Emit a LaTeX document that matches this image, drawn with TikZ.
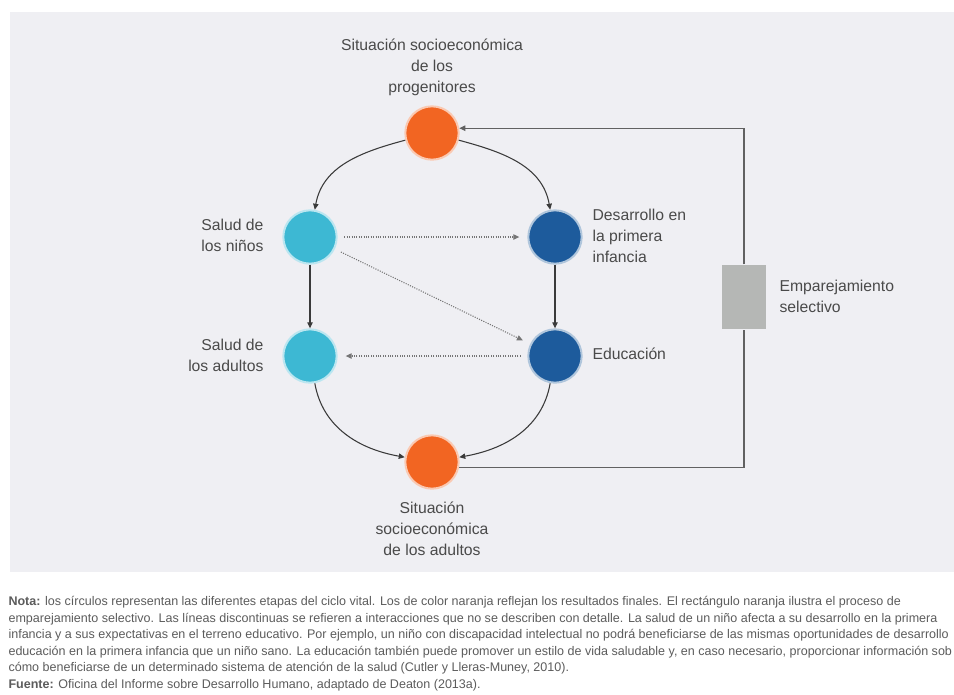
\documentclass[tikz,border=0pt]{standalone}
\usepackage{fontspec}
\setmainfont{Liberation Sans}
\usetikzlibrary{arrows.meta, positioning}
\definecolor{corange}{HTML}{F26522}
\definecolor{clight}{HTML}{3DB8D3}
\definecolor{cdark}{HTML}{1D5B9C}
\definecolor{cbox}{HTML}{B5B7B5}
\definecolor{cpanel}{HTML}{EFEFF3}
\definecolor{ctext}{HTML}{4A4A4A}
\definecolor{cline}{HTML}{3A3A3A}
\tikzset{
  every picture/.style={line width=0.8pt},
  stage/.style={circle, fill=#1, draw=#1!35, line width=1.5pt, minimum size=40pt, inner sep=0pt},
  stage/.default=corange,
  arrow/.style={-{Triangle[length=4.5pt, width=4pt]}, draw=cline},
  label/.style={font=\fontsize{11.8}{15.75}\selectfont, text=ctext, inner sep=0pt},
  note/.style={font=\fontsize{9.4}{12.4}\selectfont, text=ctext!90, align=left, inner sep=0pt},
}

\begin{document}
\begin{tikzpicture}[x=0.75pt, y=0.75pt,
  dots/.style={arrow, densely dotted, draw=cline!70, shorten <=5pt, shorten >=6pt},
  link/.style={draw=cline!80}]
  \fill[white] (0,0) rectangle (954,-694);
  \useasboundingbox (0,0) rectangle (954,-694);
  \fill[cpanel] (10,-12) rectangle (954,-572);
  % stages of the life cycle
  \node[stage=corange] (po) at (432,-133) {};
  \node[stage=clight] (sn) at (310,-237) {};
  \node[stage=cdark] (dp) at (555,-237) {};
  \node[stage=clight] (sa) at (310,-356) {};
  \node[stage=cdark] (ed) at (555,-356) {};
  \node[stage=corange] (pa) at (432,-462) {};
  \node[fill=cbox, minimum width=33pt, minimum height=48pt, inner sep=0pt] (em) at (744,-297) {};
  % labels
  \node[label, align=center] (tpo) at (432,-67) {Situación socioeconómica\\de los\\progenitores};
  \node[label, anchor=east, align=right] (tsn) at (264,-235) {Salud de\\los niños};
  \node[label, anchor=east, align=right] (tsa) at (264,-355) {Salud de\\los adultos};
  \node[label, anchor=west, align=left] (tdp) at (592,-236) {Desarrollo en\\la primera\\infancia};
  \node[label, anchor=west] (ted) at (592,-354) {Educación};
  \node[label, anchor=west, align=left] (tem) at (779,-296) {Emparejamiento\\selectivo};
  \node[label, align=center] (tpa) at (432,-529) {Situación\\socioeconómica\\de los adultos};
  % connectors
  \draw[arrow] (po) to[out=195, in=80] (sn);
  \draw[arrow] (po) to[out=-15, in=100] (dp);
  \draw[arrow] (sn) -- (sa);
  \draw[arrow] (dp) -- (ed);
  \draw[arrow] (sa) to[out=-80, in=170] (pa);
  \draw[arrow] (ed) to[out=-100, in=10] (pa);
  \draw[dots] (sn) -- (dp);
  \draw[dots] (sn) -- (ed);
  \draw[dots] (ed) -- (sa);
  % assortative mating loop
  \draw[link] (pa.-12) -| (em.south);
  \draw[arrow, draw=cline!80] (em.north) |- (po.10);
  % note and source
  \node[note, anchor=north west] (nota) at (8,-596) {%
    \textbf{Nota:} los círculos representan las diferentes etapas del ciclo vital. Los de color naranja reflejan los resultados finales. El rectángulo naranja ilustra el proceso de\\
    emparejamiento selectivo. Las líneas discontinuas se refieren a interacciones que no se describen con detalle. La salud de un niño afecta a su desarrollo en la primera\\
    infancia y a sus expectativas en el terreno educativo. Por ejemplo, un niño con discapacidad intelectual no podrá beneficiarse de las mismas oportunidades de desarrollo\\
    educación en la primera infancia que un niño sano. La educación también puede promover un estilo de vida saludable y, en caso necesario, proporcionar información sob\\
    cómo beneficiarse de un determinado sistema de atención de la salud (Cutler y Lleras-Muney, 2010).\\
    \textbf{Fuente:} Oficina del Informe sobre Desarrollo Humano, adaptado de Deaton (2013a).};
\end{tikzpicture}
\end{document}
